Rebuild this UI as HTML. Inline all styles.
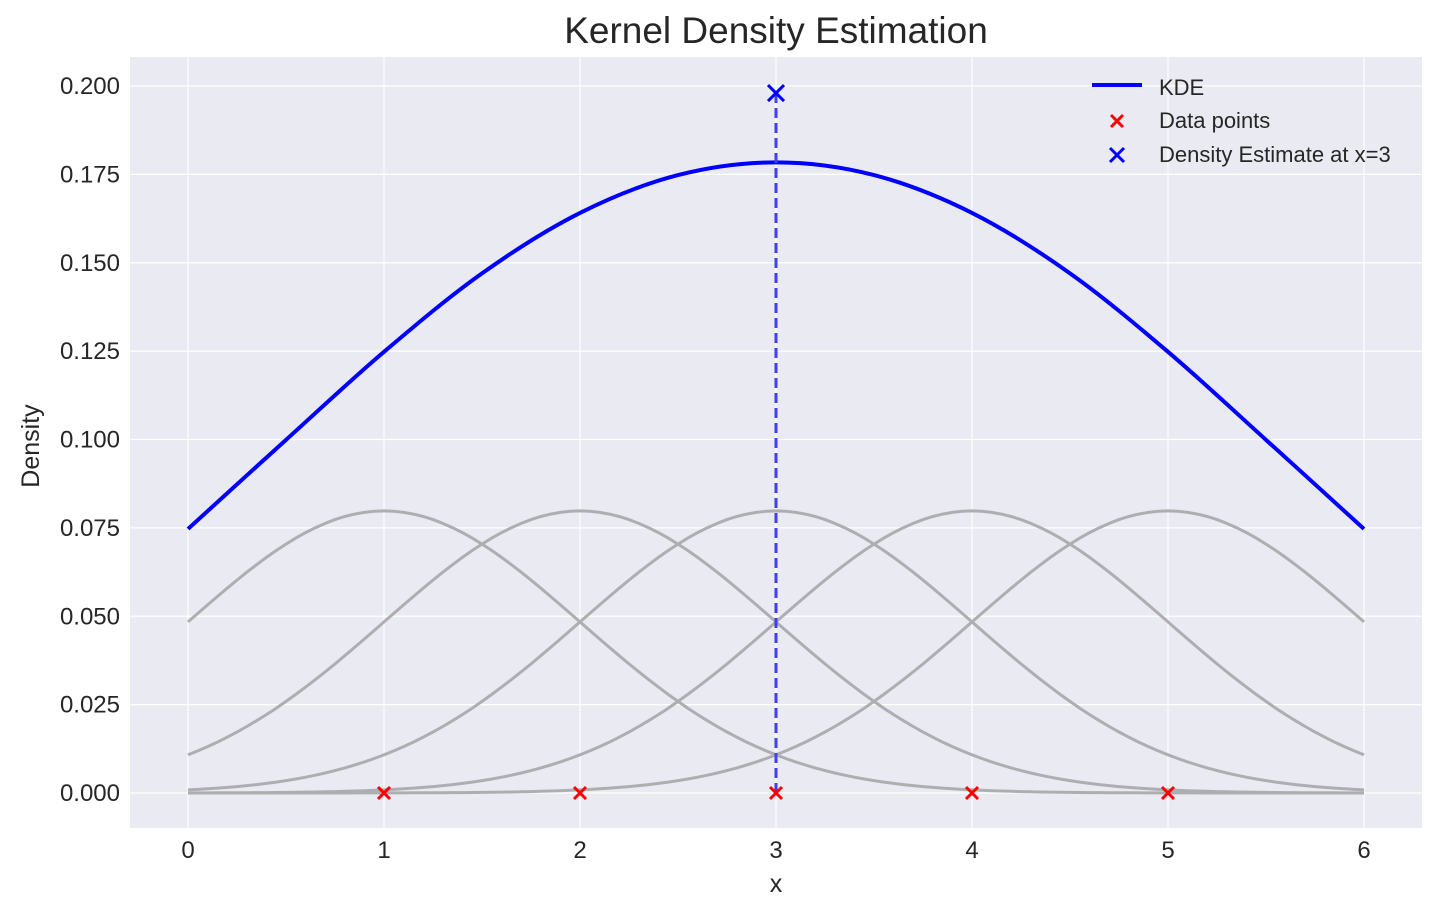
<!DOCTYPE html>
<html><head><meta charset="utf-8"><style>
html,body{margin:0;padding:0;background:#fff;width:1440px;height:914px;overflow:hidden}
svg{font-family:"Liberation Sans",sans-serif;display:block}
</style></head><body>
<svg id="chart" width="1440" height="914">
<rect x="130" y="57" width="1292" height="771" fill="#eaeaf2"/>
<g id="grid"></g><g id="kernels"></g><g id="marks"></g><g id="ticks"></g>
<text x="776" y="43" font-size="37" fill="#262626" text-anchor="middle">Kernel Density Estimation</text>
<text x="776" y="892" font-size="25" fill="#262626" text-anchor="middle">x</text>
<text x="39" y="446" font-size="25" fill="#262626" text-anchor="middle" transform="rotate(-90 39 446)">Density</text>
<g>
<line x1="1092" y1="85" x2="1142" y2="85" stroke="#0000ff" stroke-width="4"/>
<text x="1159" y="95" font-size="22" fill="#262626">KDE</text>
<path d="M1111,115 l12,12 M1123,115 l-12,12" stroke="#ff0000" stroke-width="3"/>
<text x="1159" y="128" font-size="22" fill="#262626">Data points</text>
<path d="M1110,148 l14,14 M1124,148 l-14,14" stroke="#0000ff" stroke-width="3"/>
<text x="1159" y="162" font-size="22" fill="#262626">Density Estimate at x=3</text>
</g>
</svg>
<script>
const dataPoints=[1,2,3,4,5];
const kdeX=[0,0.5,1,1.5,2,2.5,3,3.5,4,4.5,5,5.5,6];
const kdeY=[0.0747,0.0999,0.1248,0.1470,0.1641,0.1748,0.1784,0.1748,0.1641,0.1470,0.1248,0.0999,0.0747];
const estimateX=[3];
const estimateY=[0.198];
const xTicks=[0,1,2,3,4,5,6];
const yTicks=[0,0.025,0.05,0.075,0.1,0.125,0.15,0.175,0.2];
const kernelBandwidth=1;
const NS='http://www.w3.org/2000/svg';
const X=v=>188+v*196, Y=v=>793-v*3535;
function mk(t,a,p){const e=document.createElementNS(NS,t);for(const k in a)e.setAttribute(k,a[k]);p.appendChild(e);return e;}
const G=document.getElementById('grid'),T=document.getElementById('ticks'),K=document.getElementById('kernels'),M=document.getElementById('marks');
xTicks.forEach(v=>{const l=mk('line',{x1:X(v),x2:X(v),y1:57,y2:828,stroke:'#fff','stroke-width':1.2},G);

const t=mk('text',{x:X(v),y:858,'font-size':24,fill:'#262626','text-anchor':'middle'},T);t.textContent=v;
});
yTicks.forEach(v=>{const l=mk('line',{x1:130,x2:1422,y1:Y(v),y2:Y(v),stroke:'#fff','stroke-width':1.2},G);

const t=mk('text',{x:120,y:Y(v)+8,'font-size':24,fill:'#262626','text-anchor':'end'},T);t.textContent=v.toFixed(3);
});
dataPoints.forEach(d=>{let p='';for(let i=0;i<=120;i++){const x=i*6/120;const y=Math.exp(-0.5*((x-d)/kernelBandwidth)**2)/(kernelBandwidth*Math.sqrt(2*Math.PI))/dataPoints.length;p+=(i?'L':'M')+X(x).toFixed(1)+','+Y(y).toFixed(1);}
const e=mk('path',{d:p,fill:'none',stroke:'#aeaeb2','stroke-width':3},K);
});
const pts=kdeX.map((x,i)=>[X(x),Y(kdeY[i])]);let d='M'+pts[0];
for(let i=0;i<pts.length-1;i++){const p0=pts[Math.max(0,i-1)],p1=pts[i],p2=pts[i+1],p3=pts[Math.min(pts.length-1,i+2)];
d+=`C${p1[0]+(p2[0]-p0[0])/6},${p1[1]+(p2[1]-p0[1])/6} ${p2[0]-(p3[0]-p1[0])/6},${p2[1]-(p3[1]-p1[1])/6} ${p2[0]},${p2[1]}`;}
const kde=mk('path',{d:d,fill:'none',stroke:'#0000ff','stroke-width':4},M);

estimateX.forEach((x,i)=>{const vl=mk('line',{x1:X(x),x2:X(x),y1:Y(0),y2:Y(estimateY[i]),stroke:'#4040f0','stroke-width':3,'stroke-dasharray':'10,5'},M);

const m=mk('path',{d:`M${X(x)-8},${Y(estimateY[i])-8}l16,16M${X(x)+8},${Y(estimateY[i])-8}l-16,16`,stroke:'#0000ff','stroke-width':3},M);
});
dataPoints.forEach(v=>{const m=mk('path',{d:`M${X(v)-6},${Y(0)-6}l12,12M${X(v)+6},${Y(0)-6}l-12,12`,stroke:'#ff0000','stroke-width':3},M);
});
</script>
</body></html>
